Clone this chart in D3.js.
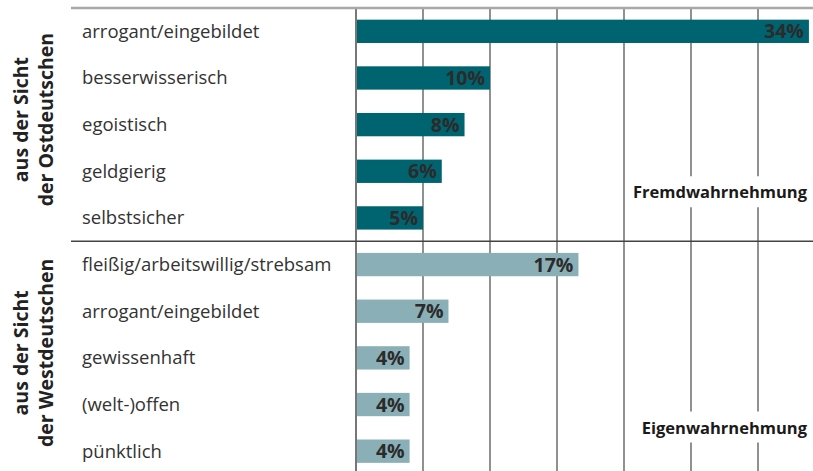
<!DOCTYPE html>
<html lang="de">
	<head>
		<meta charset="utf-8">
		<title>Fremd- und Eigenwahrnehmung</title>
		<script type="text/javascript" src="https://d3js.org/d3.v7.min.js"></script>
		<style type="text/css">
            body{margin:0;background:#fff;font-family:"Open Sans",sans-serif;}
            svg{display:block;}
		</style>
	</head>
	<body>
    <div id="chart1"></div>
		<script type="text/javascript">
            // Eigenschaften, die den Westdeutschen zugeschrieben werden
            var ostLabels = ["arrogant/eingebildet","besserwisserisch","egoistisch","geldgierig","selbstsicher"]
            var ostValues = [33.8, 10, 8.1, 6.4, 5]
            var westLabels = ["fleißig/arbeitswillig/strebsam","arrogant/eingebildet","gewissenhaft","(welt-)offen","pünktlich"]
            var westValues = [16.6, 6.9, 4, 4, 4]
            var groupTitles = [["aus der Sicht","der Ostdeutschen"],["aus der Sicht","der Westdeutschen"]]
            var groupNotes = ["Fremdwahrnehmung","Eigenwahrnehmung"]
            var gridTicks = [0,5,10,15,20,25,30]

            var w = 813
            var h = 471
            var dark = "#006470"
            var light = "#8aafb6"

            // rows: both groups in one list, keyed by index because a label repeats
            var rows = []
            ostLabels.forEach(function(l,i){ rows.push({g:0,label:l,value:ostValues[i]}) })
            westLabels.forEach(function(l,i){ rows.push({g:1,label:l,value:westValues[i]}) })

            var xScale = d3.scaleLinear().domain([0,35]).range([356,825])
            var yScale = d3.scaleBand().domain(d3.range(rows.length)).range([8,474.5]).paddingInner(0.5).paddingOuter(0.25)

            var svg = d3.select("#chart1").append("svg")
                        .attr("width",w)
                        .attr("height",h)

            // vertical grid lines
            svg.selectAll("line.grid")
                .data(gridTicks)
                .enter()
                .append("line")
                .attr("class","grid")
                .attr("x1",function(d){ return xScale(d) })
                .attr("x2",function(d){ return xScale(d) })
                .attr("y1",8)
                .attr("y2",h)
                .attr("stroke",function(d){ return d==0 ? "#777" : "#555" })
                .attr("stroke-width",function(d){ return d==0 ? 2 : 1.3 })

            // top rule and separator between the groups
            svg.append("line").attr("x1",71).attr("x2",w).attr("y1",8).attr("y2",8)
                .attr("stroke","#a8a8a8").attr("stroke-width",2.5)
            var sepY = (yScale(4)+yScale.bandwidth()+yScale(5))/2
            svg.append("line").attr("x1",71).attr("x2",w).attr("y1",sepY).attr("y2",sepY)
                .attr("stroke","#444").attr("stroke-width",1.5)

            // bars
            svg.selectAll("rect.bar")
                .data(rows)
                .enter()
                .append("rect")
                .attr("class","bar")
                .attr("x",xScale(0)+1)
                .attr("y",function(d,i){ return yScale(i) })
                .attr("width",function(d){ return xScale(d.value)-xScale(0)-1 })
                .attr("height",yScale.bandwidth())
                .attr("fill",function(d){ return d.g==0 ? dark : light })

            // value labels inside the bars
            svg.selectAll("text.val")
                .data(rows)
                .enter()
                .append("text")
                .attr("class","val")
                .attr("x",function(d){ return xScale(d.value)-5 })
                .attr("y",function(d,i){ return yScale(i)+yScale.bandwidth()/2+7 })
                .attr("text-anchor","end")
                .attr("font-size",19.5)
                .attr("font-weight","bold")
                .attr("fill","#2b2b2b")
                .text(function(d){ return Math.round(d.value)+"%" })

            // category labels
            svg.selectAll("text.cat")
                .data(rows)
                .enter()
                .append("text")
                .attr("class","cat")
                .attr("x",82)
                .attr("y",function(d,i){ return yScale(i)+yScale.bandwidth()/2+6.5 })
                .attr("font-size",18.5)
                .attr("fill","#333")
                .text(function(d){ return d.label })

            // rotated group titles
            groupTitles.forEach(function(t,g){
                var first = g*5
                var cy = (yScale(first)+yScale(first+4)+yScale.bandwidth())/2 - 5
                var tx = svg.append("text")
                    .attr("transform","translate(28,"+cy+") rotate(-90)")
                    .attr("text-anchor","middle")
                    .attr("font-size",19.5)
                    .attr("font-weight","bold")
                    .attr("fill","#222")
                tx.append("tspan").attr("x",0).attr("dy",0).text(t[0])
                tx.append("tspan").attr("x",0).attr("dy",25).text(t[1])
            })

            // notes with white background, bottom right of each group
            groupNotes.forEach(function(n,g){
                var by = yScale(g*5+4)
                var t = svg.append("text")
                    .attr("x",807)
                    .attr("y",by-8+g*2)
                    .attr("text-anchor","end")
                    .attr("font-size",16.5)
                    .attr("font-weight","bold")
                    .attr("fill","#1a1a1a")
                    .text(n)
                var bb = t.node().getBBox()
                svg.insert("rect","text")
                    .attr("x",bb.x-5)
                    .attr("y",bb.y-4)
                    .attr("width",bb.width+10)
                    .attr("height",bb.height+8)
                    .attr("fill","#fff")
            })
        </script>
	</body>
</html>
